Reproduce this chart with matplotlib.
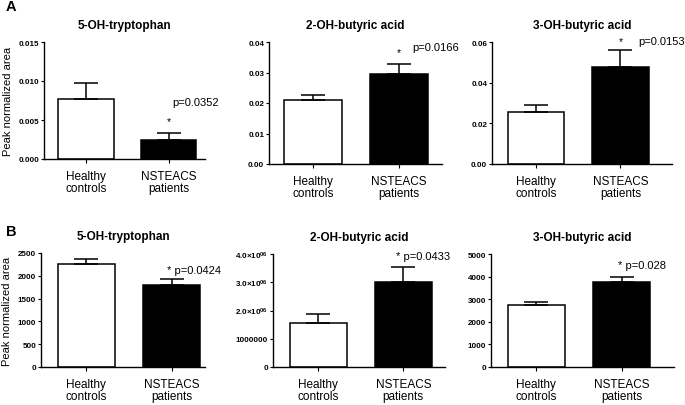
import matplotlib
matplotlib.use("Agg")
import matplotlib.pyplot as plt

plt.rcParams['font.family'] = ['Liberation Sans', 'DejaVu Sans']
plt.rcParams['mathtext.fontset'] = 'custom'
plt.rcParams['mathtext.rm'] = 'Liberation Sans'
plt.rcParams['mathtext.bf'] = 'Liberation Sans:bold'

# ---- data ----
groups = ["Healthy\ncontrols", "NSTEACS\npatients"]
titles = ["5-OH-tryptophan", "2-OH-butyric acid", "3-OH-butyric acid"]

a_trp = [0.0077, 0.0025]
a_trp_err = [0.0020, 0.0008]
a_2ob = [0.0210, 0.0296]
a_2ob_err = [0.0016, 0.0031]
a_3ob = [0.0254, 0.0478]
a_3ob_err = [0.0036, 0.0084]

b_trp = [2255, 1800]
b_trp_err = [115, 120]
b_2ob = [1.57e6, 3.00e6]
b_2ob_err = [0.32e6, 0.54e6]
b_3ob = [2745, 3760]
b_3ob_err = [150, 240]

pvals_a = ["p=0.0352", "p=0.0166", "p=0.0153"]
pvals_b = ["* p=0.0424", "* p=0.0433", "* p=0.028"]

yticks_a = [[0.000, 0.005, 0.010, 0.015], [0.00, 0.01, 0.02, 0.03, 0.04], [0.00, 0.02, 0.04, 0.06]]
yticklabels_a = [["0.000", "0.005", "0.010", "0.015"], ["0.00", "0.01", "0.02", "0.03", "0.04"],
                 ["0.00", "0.02", "0.04", "0.06"]]
yticks_b = [[0, 500, 1000, 1500, 2000, 2500], [0, 1e6, 2e6, 3e6, 4e6], [0, 1000, 2000, 3000, 4000, 5000]]
yticklabels_b = [["0", "500", "1000", "1500", "2000", "2500"],
                 ["0", "1000000", r"$\mathbf{2.0{\times}10^{06}}$", r"$\mathbf{3.0{\times}10^{06}}$",
                  r"$\mathbf{4.0{\times}10^{06}}$"],
                 ["0", "1000", "2000", "3000", "4000", "5000"]]

W, H = 685, 406
fig = plt.figure(figsize=(W / 100, H / 100), dpi=100)

# layout (pixels: left, right, top, bottom) and xlim
rects = [
    (44, 205, 43, 160, (-0.51, 1.44)),
    (269, 442, 43, 165, (-0.51, 1.50)),
    (492, 672, 43, 165, (-0.52, 1.61)),
    (41, 205, 254, 368, (-0.53, 1.39)),
    (273, 445, 255, 368, (-0.53, 1.49)),
    (491, 674, 255, 368, (-0.53, 1.61)),
]

vals = [a_trp, a_2ob, a_3ob, b_trp, b_2ob, b_3ob]
errs = [a_trp_err, a_2ob_err, a_3ob_err, b_trp_err, b_2ob_err, b_3ob_err]
yts = yticks_a + yticks_b
ytls = yticklabels_a + yticklabels_b

for i in range(6):
    l, r, t, b, xl = rects[i]
    ax = fig.add_axes([l / W, 1 - b / H, (r - l) / W, (b - t) / H])
    x = [0, 1]
    ax.bar(x, vals[i], width=0.67, color=["white", "black"], edgecolor="black", linewidth=1.1, zorder=2)
    ax.errorbar(x, vals[i], yerr=[[0, 0], errs[i]], fmt="none", ecolor="black",
                elinewidth=1.1, capsize=8.5, capthick=1.1, zorder=3)
    ax.set_xlim(*xl)
    ax.set_ylim(yts[i][0], yts[i][-1])
    ax.set_yticks(yts[i])
    ax.set_yticklabels(ytls[i], fontsize=5.8, fontweight="bold")
    ax.set_xticks(x)
    ax.set_xticklabels(groups, fontsize=8.5, linespacing=1.0)
    ax.tick_params(axis="y", length=2.5, width=0.8, pad=1)
    ax.tick_params(axis="x", length=3, width=0.8, pad=5)
    for s in ["top", "right"]:
        ax.spines[s].set_visible(False)
    for s in ["left", "bottom"]:
        ax.spines[s].set_linewidth(1.0)
    ax.set_title(titles[i % 3], fontsize=8.5, fontweight="bold", pad=10)
    if i % 3 == 0:
        ax.set_ylabel("Peak normalized area", fontsize=8, labelpad=4)
    top = vals[i][1] + errs[i][1]
    span = yts[i][-1]
    if i < 3:
        # asterisk and p-value text
        star_y = [top + 0.10 * span, top + 0.10 * span, 1.01 * span][i]
        ax.text(1, star_y, "*", fontsize=7.5, ha="center", va="center")
        px = [1.04, 1.16, 1.21][i]
        py = [0.49 * span, 0.96 * span, 1.01 * span][i]
        ax.text(px, py, pvals_a[i], fontsize=8, ha="left", va="center", clip_on=False)
    else:
        px = [0.95, 0.92, 0.96][i - 3]
        py = [0.85 * span, 0.98 * span, 0.90 * span][i - 3]
        ax.text(px, py, pvals_b[i - 3], fontsize=8, ha="left", va="center", clip_on=False)

fig.text(11 / W, 1 - 7 / H, "A", fontsize=10.5, fontweight="bold", ha="center", va="center")
fig.text(11 / W, 1 - 232 / H, "B", fontsize=10.5, fontweight="bold", ha="center", va="center")

fig.savefig("out.png", dpi=100)
